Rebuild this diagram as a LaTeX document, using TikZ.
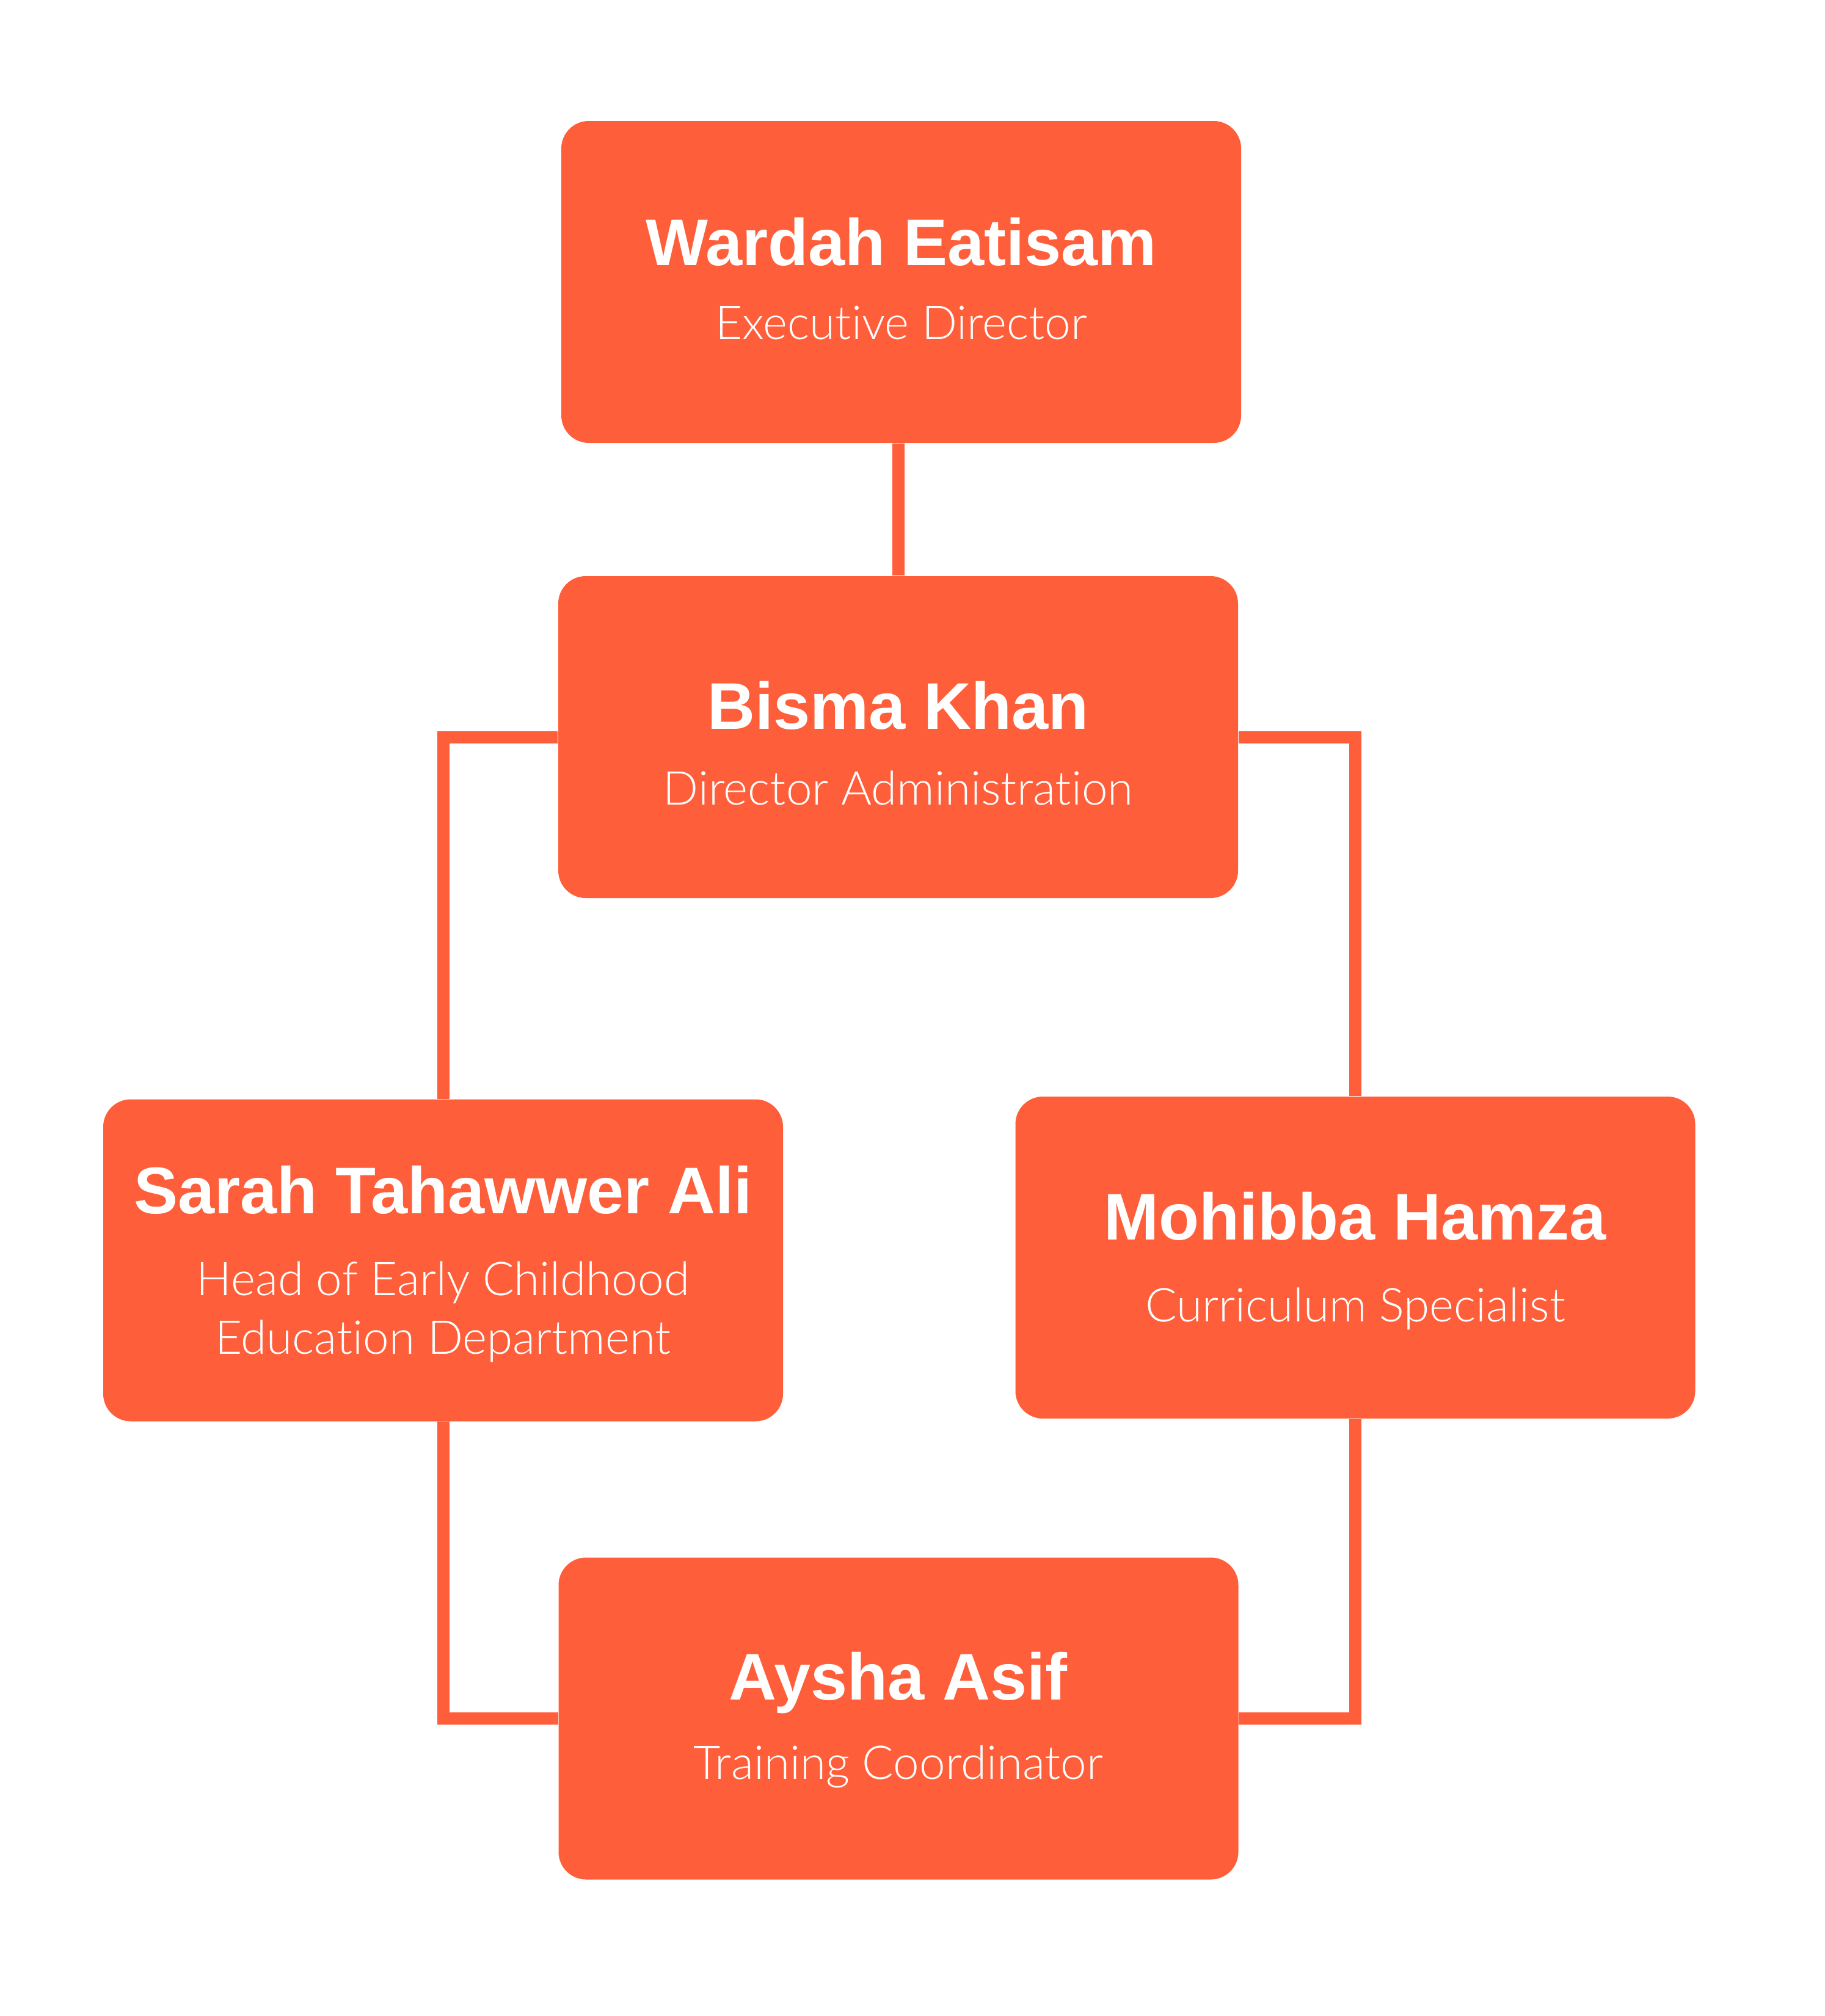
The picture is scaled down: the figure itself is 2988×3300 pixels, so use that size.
\documentclass[tikz,border=0pt]{standalone}
\usepackage{fontspec}
\setmainfont{Liberation Sans}
\newfontfamily\rolefont[Ligatures={NoCommon,NoRare,NoDiscretionary}]{Lato Light}
\definecolor{org}{RGB}{255,94,58}
\begin{document}
\begin{tikzpicture}[x=0.25pt,y=-0.25pt,
  box/.style={draw=none,fill=org,rounded corners=11.25pt,minimum width=278.25pt,minimum height=131.75pt,inner sep=0pt},
  nametext/.style={text=white,font=\fontsize{27}{32}\selectfont\bfseries,anchor=base,inner sep=0pt},
  roletext/.style={text=white,font=\rolefont\fontsize{19.1}{24}\selectfont,anchor=base,inner sep=0pt},
  link/.style={draw=org,line width=5pt}]
\fill[white] (0,0) rectangle (2988,3300);
% boxes
\node[box] (b1) at (1475.5,461.5) {};
\node[box] (b2) at (1470.5,1206.5) {};
\node[box] (b3) at (725.5,2063) {};
\node[box] (b4) at (2219,2058.5) {};
\node[box] (b5) at (1471,2813) {};
% connectors
\draw[link] (b2.north |- b1.south) -- (b2.north);
\draw[link] (b2.west) -| (b3.north);
\draw[link] (b2.east) -| (b4.north);
\draw[link] (b3.south) |- (b5.west);
\draw[link] (b4.south) |- (b5.east);
% texts
\node[nametext] (n1) at (1475.5,434.5) {Wardah Eatisam};
\node[roletext] (r1) at (1475.5,555) {Executive Director};
\node[nametext] (n2) at (1470.5,1193) {Bisma Khan};
\node[roletext] (r2) at (1470.5,1317) {Director Administration};
\node[nametext] (n3) at (725.5,1986.5) {Sarah Tahawwer Ali};
\node[roletext] (r3a) at (725.5,2120) {Head of Early Childhood};
\node[roletext] (r3b) at (725.5,2216) {Education Department};
\node[nametext] (n4) at (2219,2029) {Mohibba Hamza};
\node[roletext] (r4) at (2219,2163) {Curriculum Specialist};
\node[nametext] (n5) at (1471,2782) {Aysha Asif};
\node[roletext] (r5) at (1471,2912) {Training Coordinator};
\end{tikzpicture}
\end{document}
